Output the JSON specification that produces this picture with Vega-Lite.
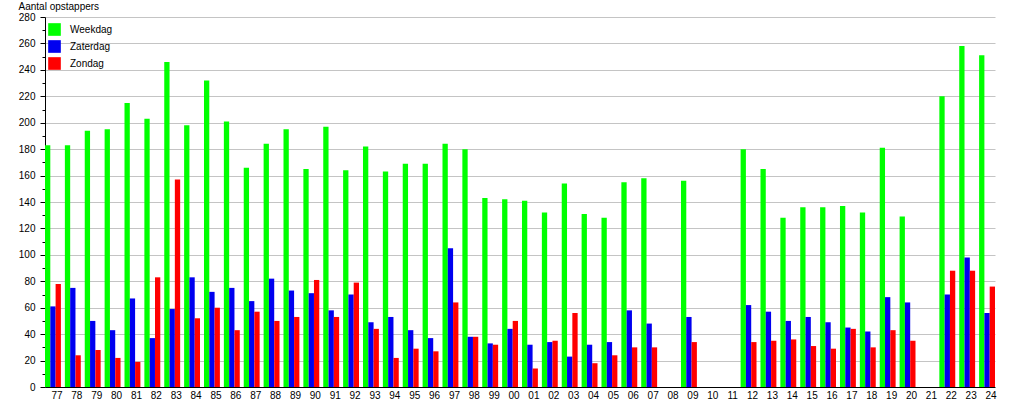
{
  "$schema": "https://vega.github.io/schema/vega-lite/v6.json",
  "width": 950,
  "height": 370,
  "autosize": {"type": "none"},
  "padding": {"left": 45, "top": 17, "right": 20, "bottom": 13},
  "background": "white",
  "config": {
    "view": {"stroke": null},
    "font": "Liberation Sans"
  },
  "data": {
    "values": [
      {"jaar": "77", "dag": "Weekdag", "n": 183}, {"jaar": "77", "dag": "Zaterdag", "n": 61}, {"jaar": "77", "dag": "Zondag", "n": 78},
      {"jaar": "78", "dag": "Weekdag", "n": 183}, {"jaar": "78", "dag": "Zaterdag", "n": 75}, {"jaar": "78", "dag": "Zondag", "n": 24},
      {"jaar": "79", "dag": "Weekdag", "n": 194}, {"jaar": "79", "dag": "Zaterdag", "n": 50}, {"jaar": "79", "dag": "Zondag", "n": 28},
      {"jaar": "80", "dag": "Weekdag", "n": 195}, {"jaar": "80", "dag": "Zaterdag", "n": 43}, {"jaar": "80", "dag": "Zondag", "n": 22},
      {"jaar": "81", "dag": "Weekdag", "n": 215}, {"jaar": "81", "dag": "Zaterdag", "n": 67}, {"jaar": "81", "dag": "Zondag", "n": 19},
      {"jaar": "82", "dag": "Weekdag", "n": 203}, {"jaar": "82", "dag": "Zaterdag", "n": 37}, {"jaar": "82", "dag": "Zondag", "n": 83},
      {"jaar": "83", "dag": "Weekdag", "n": 246}, {"jaar": "83", "dag": "Zaterdag", "n": 59}, {"jaar": "83", "dag": "Zondag", "n": 157},
      {"jaar": "84", "dag": "Weekdag", "n": 198}, {"jaar": "84", "dag": "Zaterdag", "n": 83}, {"jaar": "84", "dag": "Zondag", "n": 52},
      {"jaar": "85", "dag": "Weekdag", "n": 232}, {"jaar": "85", "dag": "Zaterdag", "n": 72}, {"jaar": "85", "dag": "Zondag", "n": 60},
      {"jaar": "86", "dag": "Weekdag", "n": 201}, {"jaar": "86", "dag": "Zaterdag", "n": 75}, {"jaar": "86", "dag": "Zondag", "n": 43},
      {"jaar": "87", "dag": "Weekdag", "n": 166}, {"jaar": "87", "dag": "Zaterdag", "n": 65}, {"jaar": "87", "dag": "Zondag", "n": 57},
      {"jaar": "88", "dag": "Weekdag", "n": 184}, {"jaar": "88", "dag": "Zaterdag", "n": 82}, {"jaar": "88", "dag": "Zondag", "n": 50},
      {"jaar": "89", "dag": "Weekdag", "n": 195}, {"jaar": "89", "dag": "Zaterdag", "n": 73}, {"jaar": "89", "dag": "Zondag", "n": 53},
      {"jaar": "90", "dag": "Weekdag", "n": 165}, {"jaar": "90", "dag": "Zaterdag", "n": 71}, {"jaar": "90", "dag": "Zondag", "n": 81},
      {"jaar": "91", "dag": "Weekdag", "n": 197}, {"jaar": "91", "dag": "Zaterdag", "n": 58}, {"jaar": "91", "dag": "Zondag", "n": 53},
      {"jaar": "92", "dag": "Weekdag", "n": 164}, {"jaar": "92", "dag": "Zaterdag", "n": 70}, {"jaar": "92", "dag": "Zondag", "n": 79},
      {"jaar": "93", "dag": "Weekdag", "n": 182}, {"jaar": "93", "dag": "Zaterdag", "n": 49}, {"jaar": "93", "dag": "Zondag", "n": 44},
      {"jaar": "94", "dag": "Weekdag", "n": 163}, {"jaar": "94", "dag": "Zaterdag", "n": 53}, {"jaar": "94", "dag": "Zondag", "n": 22},
      {"jaar": "95", "dag": "Weekdag", "n": 169}, {"jaar": "95", "dag": "Zaterdag", "n": 43}, {"jaar": "95", "dag": "Zondag", "n": 29},
      {"jaar": "96", "dag": "Weekdag", "n": 169}, {"jaar": "96", "dag": "Zaterdag", "n": 37}, {"jaar": "96", "dag": "Zondag", "n": 27},
      {"jaar": "97", "dag": "Weekdag", "n": 184}, {"jaar": "97", "dag": "Zaterdag", "n": 105}, {"jaar": "97", "dag": "Zondag", "n": 64},
      {"jaar": "98", "dag": "Weekdag", "n": 180}, {"jaar": "98", "dag": "Zaterdag", "n": 38}, {"jaar": "98", "dag": "Zondag", "n": 38},
      {"jaar": "99", "dag": "Weekdag", "n": 143}, {"jaar": "99", "dag": "Zaterdag", "n": 33}, {"jaar": "99", "dag": "Zondag", "n": 32},
      {"jaar": "00", "dag": "Weekdag", "n": 142}, {"jaar": "00", "dag": "Zaterdag", "n": 44}, {"jaar": "00", "dag": "Zondag", "n": 50},
      {"jaar": "01", "dag": "Weekdag", "n": 141}, {"jaar": "01", "dag": "Zaterdag", "n": 32}, {"jaar": "01", "dag": "Zondag", "n": 14},
      {"jaar": "02", "dag": "Weekdag", "n": 132}, {"jaar": "02", "dag": "Zaterdag", "n": 34}, {"jaar": "02", "dag": "Zondag", "n": 35},
      {"jaar": "03", "dag": "Weekdag", "n": 154}, {"jaar": "03", "dag": "Zaterdag", "n": 23}, {"jaar": "03", "dag": "Zondag", "n": 56},
      {"jaar": "04", "dag": "Weekdag", "n": 131}, {"jaar": "04", "dag": "Zaterdag", "n": 32}, {"jaar": "04", "dag": "Zondag", "n": 18},
      {"jaar": "05", "dag": "Weekdag", "n": 128}, {"jaar": "05", "dag": "Zaterdag", "n": 34}, {"jaar": "05", "dag": "Zondag", "n": 24},
      {"jaar": "06", "dag": "Weekdag", "n": 155}, {"jaar": "06", "dag": "Zaterdag", "n": 58}, {"jaar": "06", "dag": "Zondag", "n": 30},
      {"jaar": "07", "dag": "Weekdag", "n": 158}, {"jaar": "07", "dag": "Zaterdag", "n": 48}, {"jaar": "07", "dag": "Zondag", "n": 30},
      {"jaar": "09", "dag": "Weekdag", "n": 156}, {"jaar": "09", "dag": "Zaterdag", "n": 53}, {"jaar": "09", "dag": "Zondag", "n": 34},
      {"jaar": "12", "dag": "Weekdag", "n": 180}, {"jaar": "12", "dag": "Zaterdag", "n": 62}, {"jaar": "12", "dag": "Zondag", "n": 34},
      {"jaar": "13", "dag": "Weekdag", "n": 165}, {"jaar": "13", "dag": "Zaterdag", "n": 57}, {"jaar": "13", "dag": "Zondag", "n": 35},
      {"jaar": "14", "dag": "Weekdag", "n": 128}, {"jaar": "14", "dag": "Zaterdag", "n": 50}, {"jaar": "14", "dag": "Zondag", "n": 36},
      {"jaar": "15", "dag": "Weekdag", "n": 136}, {"jaar": "15", "dag": "Zaterdag", "n": 53}, {"jaar": "15", "dag": "Zondag", "n": 31},
      {"jaar": "16", "dag": "Weekdag", "n": 136}, {"jaar": "16", "dag": "Zaterdag", "n": 49}, {"jaar": "16", "dag": "Zondag", "n": 29},
      {"jaar": "17", "dag": "Weekdag", "n": 137}, {"jaar": "17", "dag": "Zaterdag", "n": 45}, {"jaar": "17", "dag": "Zondag", "n": 44},
      {"jaar": "18", "dag": "Weekdag", "n": 132}, {"jaar": "18", "dag": "Zaterdag", "n": 42}, {"jaar": "18", "dag": "Zondag", "n": 30},
      {"jaar": "19", "dag": "Weekdag", "n": 181}, {"jaar": "19", "dag": "Zaterdag", "n": 68}, {"jaar": "19", "dag": "Zondag", "n": 43},
      {"jaar": "20", "dag": "Weekdag", "n": 129}, {"jaar": "20", "dag": "Zaterdag", "n": 64}, {"jaar": "20", "dag": "Zondag", "n": 35},
      {"jaar": "22", "dag": "Weekdag", "n": 220}, {"jaar": "22", "dag": "Zaterdag", "n": 70}, {"jaar": "22", "dag": "Zondag", "n": 88},
      {"jaar": "23", "dag": "Weekdag", "n": 258}, {"jaar": "23", "dag": "Zaterdag", "n": 98}, {"jaar": "23", "dag": "Zondag", "n": 88},
      {"jaar": "24", "dag": "Weekdag", "n": 251}, {"jaar": "24", "dag": "Zaterdag", "n": 56}, {"jaar": "24", "dag": "Zondag", "n": 76}
    ]
  },
  "mark": {"type": "bar", "strokeWidth": 0},
  "encoding": {
    "x": {
      "field": "jaar",
      "type": "nominal",
      "scale": {
        "domain": ["77","78","79","80","81","82","83","84","85","86","87","88","89","90","91","92","93","94","95","96","97","98","99","00","01","02","03","04","05","06","07","08","09","10","11","12","13","14","15","16","17","18","19","20","21","22","23","24"],
        "paddingInner": 0.2,
        "paddingOuter": 0
      },
      "axis": {
        "title": null,
        "labelAngle": 0,
        "ticks": false,
        "domainColor": "black",
        "labelColor": "black",
        "labelFont": "Liberation Sans",
        "labelFontSize": 10,
        "labelPadding": 3,
        "labelOffset": 4,
        "labelOverlap": false,
        "grid": false
      }
    },
    "xOffset": {
      "field": "dag",
      "type": "nominal",
      "scale": {"domain": ["Weekdag", "Zaterdag", "Zondag"], "paddingInner": 0, "paddingOuter": 0}
    },
    "y": {
      "field": "n",
      "type": "quantitative",
      "scale": {"domain": [0, 280], "nice": false},
      "axis": {
        "title": "Aantal opstappers",
        "titleAngle": 0,
        "titleAlign": "left",
        "titleBaseline": "alphabetic",
        "titleX": -27,
        "titleY": -8,
        "titleFont": "Liberation Sans",
        "titleFontSize": 10,
        "titleFontWeight": "normal",
        "titleColor": "black",
        "values": [0,10,20,30,40,50,60,70,80,90,100,110,120,130,140,150,160,170,180,190,200,210,220,230,240,250,260,270,280],
        "labelExpr": "datum.value % 20 == 0 ? datum.label : ''",
        "labelFont": "Liberation Sans",
        "labelFontSize": 10,
        "labelColor": "black",
        "labelPadding": 5,
        "domainColor": "black",
        "tickColor": "black",
        "tickSize": {"condition": {"test": "datum.value % 20 == 0", "value": 5}, "value": 3},
        "grid": true,
        "gridColor": "#c4c4c4",
        "gridOpacity": {"condition": {"test": "datum.value % 20 == 0 && datum.value > 0", "value": 1}, "value": 0}
      }
    },
    "color": {
      "field": "dag",
      "type": "nominal",
      "scale": {"domain": ["Weekdag", "Zaterdag", "Zondag"], "range": ["#00ff00", "#0000f0", "#ff0000"]},
      "legend": {
        "title": null,
        "orient": "none",
        "legendX": 3,
        "legendY": 6,
        "padding": 0,
        "symbolType": "square",
        "symbolSize": 160,
        "symbolStrokeWidth": 0,
        "labelFont": "Liberation Sans",
        "labelFontSize": 10,
        "labelColor": "black",
        "labelOffset": 9,
        "rowPadding": 4
      }
    }
  }
}
